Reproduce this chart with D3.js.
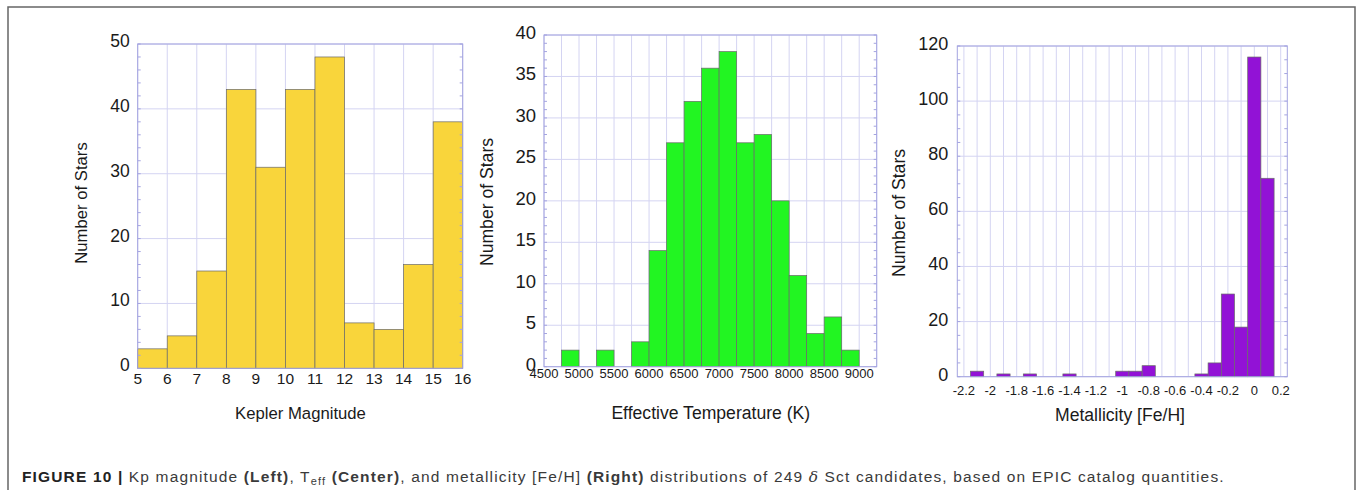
<!DOCTYPE html>
<html lang="en">
<head>
<meta charset="utf-8"/>
<title>Figure 10 - Kp, Teff and [Fe/H] distributions</title>
<script src="https://d3js.org/d3.v7.min.js"></script>
<style>
  body { margin: 0; background: #fff; }
  svg text { font-family: "Liberation Sans", Arial, Helvetica, sans-serif; }
</style>
</head>
<body>
<script>
// values
// left: Kepler magnitude, bins of width 1 (left edges)
var kpBins   = [5, 6, 7, 8, 9, 10, 11, 12, 13, 14, 15];
var kpCounts = [3, 5, 15, 43, 31, 43, 48, 7, 6, 16, 38];
var kpTicks  = [5, 6, 7, 8, 9, 10, 11, 12, 13, 14, 15, 16];
var kpYTicks = [0, 10, 20, 30, 40, 50];

// center: effective temperature, bins of width 250 (left edges)
var teffBins   = [4750, 5000, 5250, 5500, 5750, 6000, 6250, 6500, 6750, 7000, 7250, 7500, 7750, 8000, 8250, 8500, 8750];
var teffCounts = [2, 0, 2, 0, 3, 14, 27, 32, 36, 38, 27, 28, 20, 11, 4, 6, 2];
var teffTicks  = [4500, 5000, 5500, 6000, 6500, 7000, 7500, 8000, 8500, 9000];
var teffYTicks = [0, 5, 10, 15, 20, 25, 30, 35, 40];

// right: metallicity, bins of width 0.1 (centres)
var fehBins   = [-2.1, -1.9, -1.7, -1.4, -1.0, -0.9, -0.8, -0.4, -0.3, -0.2, -0.1, 0, 0.1];
var fehCounts = [2, 1, 1, 1, 2, 2, 4, 1, 5, 30, 18, 116, 72];
var fehTicks  = [-2.2, -2, -1.8, -1.6, -1.4, -1.2, -1, -0.8, -0.6, -0.4, -0.2, 0, 0.2];
var fehYTicks = [0, 20, 40, 60, 80, 100, 120];

var w = 1358;
var h = 494;

var svg = d3.select("body")
            .append("svg")
            .attr("width", w)
            .attr("height", h);

// outer figure frame (left, top, right)
svg.append("path")
    .attr("d", "M8,490 L8,7 L1355,7 L1355,490")
    .style("fill", "none")
    .style("stroke", "#666")
    .style("stroke-width", 1.5);

var charts = [
  { bins: kpBins, counts: kpCounts, width: 1, centred: false,
    xTicks: kpTicks, yTicks: kpYTicks, xDomain: [5, 16], yDomain: [0, 50],
    left: 137.7, right: 462.7, bottom: 368.3, top: 44,
    xGrid: d3.range(5, 17), minorStep: 2,
    fill: "#f9d53b", xFont: 15.5, yFont: 17.5, titleFont: 16.7,
    xLabelDy: 10.5, yLabelDx: 8, yLabelDy: -3,
    xTitle: "Kepler Magnitude", xTitleX: 300.5, xTitleY: 419,
    yTitleX: 86.5, yTitleY: 203 },
  { bins: teffBins, counts: teffCounts, width: 250, centred: false,
    xTicks: teffTicks, yTicks: teffYTicks, xDomain: [4500, 9250], yDomain: [0, 40],
    left: 544, right: 876.7, bottom: 366.7, top: 35,
    xGrid: d3.range(4500, 9251, 250), minorStep: 1,
    fill: "#22f522", xFont: 13, yFont: 18.5, titleFont: 17.6,
    xLabelDy: 7, yLabelDx: 8, yLabelDy: -2.5,
    xTitle: "Effective Temperature (K)", xTitleX: 710.8, xTitleY: 419,
    yTitleX: 493, yTitleY: 202 },
  { bins: fehBins, counts: fehCounts, width: 0.1, centred: true,
    xTicks: fehTicks, yTicks: fehYTicks, xDomain: [-2.25, 0.25], yDomain: [0, 120],
    left: 957.3, right: 1287.3, bottom: 376.7, top: 46,
    xGrid: d3.range(-22, 3).map(function(k) { return k / 10; }), minorStep: 5,
    fill: "#9212d6", xFont: 13, yFont: 18, titleFont: 17.6,
    xLabelDy: 13.5, yLabelDx: 9, yLabelDy: -2,
    xTitle: "Metallicity [Fe/H]", xTitleX: 1120, xTitleY: 420.5,
    yTitleX: 905, yTitleY: 213 }
];

charts.forEach(function(c) {
  var x = d3.scaleLinear().domain(c.xDomain).range([c.left, c.right]);
  var y = d3.scaleLinear().domain(c.yDomain).range([c.bottom, c.top]);
  var g = svg.append("g");

  // vertical grid lines
  g.selectAll(".vgrid")
    .data(c.xGrid)
    .enter()
    .append("line")
    .attr("x1", function(d) { return x(d); })
    .attr("x2", function(d) { return x(d); })
    .attr("y1", c.top)
    .attr("y2", c.bottom)
    .style("stroke", "#d4d4f2")
    .style("stroke-width", 1);

  // horizontal grid lines at major ticks
  g.selectAll(".hgrid")
    .data(c.yTicks)
    .enter()
    .append("line")
    .attr("x1", c.left)
    .attr("x2", c.right)
    .attr("y1", function(d) { return y(d); })
    .attr("y2", function(d) { return y(d); })
    .style("stroke", "#d4d4f2")
    .style("stroke-width", 1);

  // bars
  g.selectAll("rect")
    .data(c.bins)
    .enter()
    .append("rect")
    .attr("x", function(d) { return x(c.centred ? d - c.width / 2 : d); })
    .attr("width", function(d) { return x(d + c.width) - x(d); })
    .attr("y", function(d, i) { return y(c.counts[i]); })
    .attr("height", function(d, i) { return y(0) - y(c.counts[i]); })
    .style("fill", c.fill)
    .style("stroke", "#6a6a6a")
    .style("stroke-width", 0.7);

  // minor ticks on left and right edges, pointing inward
  var minor = d3.range(c.yDomain[0], c.yDomain[1] + 0.001, c.minorStep);
  g.selectAll(".minorL")
    .data(minor)
    .enter()
    .append("line")
    .attr("x1", c.left)
    .attr("x2", c.left + 3)
    .attr("y1", function(d) { return y(d); })
    .attr("y2", function(d) { return y(d); })
    .style("stroke", "#a4a4e0")
    .style("stroke-width", 1);
  g.selectAll(".minorR")
    .data(minor)
    .enter()
    .append("line")
    .attr("x1", c.right)
    .attr("x2", c.right - 3)
    .attr("y1", function(d) { return y(d); })
    .attr("y2", function(d) { return y(d); })
    .style("stroke", "#a4a4e0")
    .style("stroke-width", 1);

  // plot frame
  g.append("rect")
    .attr("x", c.left)
    .attr("y", c.top)
    .attr("width", c.right - c.left)
    .attr("height", c.bottom - c.top)
    .style("fill", "none")
    .style("stroke", "#a4a4e0")
    .style("stroke-width", 1);

  // tick labels
  g.selectAll(".xlab")
    .data(c.xTicks)
    .enter()
    .append("text")
    .attr("x", function(d) { return x(d); })
    .attr("y", c.bottom + c.xLabelDy)
    .attr("text-anchor", "middle")
    .attr("dominant-baseline", "central")
    .style("font-size", c.xFont + "px")
    .style("fill", "#1a1a1a")
    .text(function(d) { return String(d); });

  g.selectAll(".ylab")
    .data(c.yTicks)
    .enter()
    .append("text")
    .attr("x", c.left - c.yLabelDx)
    .attr("y", function(d) { return y(d) + c.yLabelDy; })
    .attr("text-anchor", "end")
    .attr("dominant-baseline", "central")
    .style("font-size", c.yFont + "px")
    .style("fill", "#1a1a1a")
    .text(function(d) { return String(d); });

  // axis titles
  g.append("text")
    .attr("x", c.xTitleX)
    .attr("y", c.xTitleY)
    .attr("text-anchor", "middle")
    .style("font-size", c.titleFont + "px")
    .style("fill", "#1a1a1a")
    .text(c.xTitle);

  g.append("text")
    .attr("transform", "translate(" + c.yTitleX + "," + c.yTitleY + ") rotate(-90)")
    .attr("text-anchor", "middle")
    .style("font-size", c.titleFont + "px")
    .style("fill", "#1a1a1a")
    .text("Number of Stars");
});

// caption
var cap = svg.append("text")
    .attr("x", 22)
    .attr("y", 481.5)
    .style("font-size", "15.5px")
    .style("letter-spacing", "1.15px")
    .style("fill", "#3a3a3a");
cap.append("tspan").style("font-weight", "bold").style("fill", "#222").text("FIGURE 10 | ");
cap.append("tspan").text("Kp magnitude ");
cap.append("tspan").style("font-weight", "bold").text("(Left)");
cap.append("tspan").text(", T");
cap.append("tspan").attr("dy", 3).style("font-size", "11px").text("eff");
cap.append("tspan").attr("dy", -3).text(" ");
cap.append("tspan").style("font-weight", "bold").text("(Center)");
cap.append("tspan").text(", and metallicity [Fe/H] ");
cap.append("tspan").style("font-weight", "bold").text("(Right)");
cap.append("tspan").text(" distributions of 249 ");
cap.append("tspan").style("font-style", "italic").style("font-family", "'DejaVu Serif', serif").text("δ");
cap.append("tspan").text(" Sct candidates, based on EPIC catalog quantities.");
</script>
</body>
</html>
